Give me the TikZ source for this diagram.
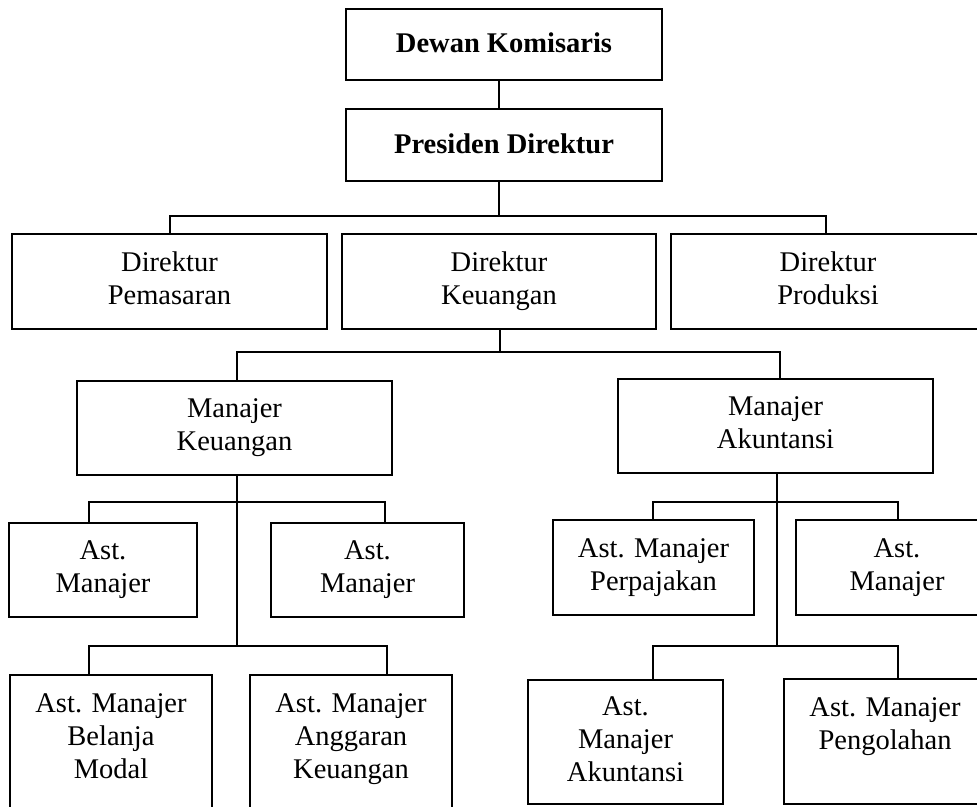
\documentclass[tikz,border=0pt]{standalone}
\usepackage{fontspec}
\setmainfont{Liberation Serif}
% struts that keep every box's text block at the same optical height
\newcommand\firststrut{\rule{0pt}{26.5pt}}
\newcommand\laststrut{\rule[-6.5pt]{0pt}{6.5pt}}
\begin{document}
\begin{tikzpicture}[x=1pt,y=-1pt,
  box/.style={draw, rectangle, line width=2.2pt, inner sep=0pt, align=center,
    font=\fontsize{28.5}{33}\selectfont,
    execute at begin node=\firststrut, execute at end node=\laststrut},
  titlebox/.style={box, font=\fontsize{28.5}{33}\selectfont\bfseries,
    execute at begin node=\strut, execute at end node=\strut},
  boxtext/.style={inner sep=0pt, align=center, font=\fontsize{28.5}{33}\selectfont},
  link/.style={line width=2.2pt}]
\useasboundingbox (0,0) rectangle (977,806);
\clip (0,0) rectangle (977,806);

% top of the chart
\node[titlebox, minimum width=316, minimum height=71] (dk) at (504,44.5) {Dewan Komisaris};
\node[titlebox, minimum width=316, minimum height=72] (pd) at (504,145) {Presiden Direktur};

% directors
\node[box, minimum width=315, minimum height=95] (dpm) at (169.5,281.5) {Direktur\\Pemasaran};
\node[box, minimum width=314, minimum height=95] (dku) at (499,281.5) {Direktur\\Keuangan};
\node[box, minimum width=314, minimum height=95] (dpr) at (828,281.5) {Direktur\\Produksi};

% managers
\node[box, minimum width=315, minimum height=94] (mk) at (234.5,428) {Manajer\\Keuangan};
\node[box, minimum width=315, minimum height=94] (ma) at (775.5,426) {Manajer\\Akuntansi};

% assistant managers, first row
\node[box, minimum width=188, minimum height=94] (a1) at (103,570) {Ast.\\Manajer};
\node[box, minimum width=193, minimum height=94] (a2) at (367.5,570) {Ast.\\Manajer};
\node[box, minimum width=201, minimum height=95] (a3) at (653.5,567.5) {Ast. Manajer\\Perpajakan};
\node[box, minimum width=202, minimum height=95] (a4) at (897,567.5) {Ast.\\Manajer};

% assistant managers, second row
\node[box, minimum width=202, minimum height=155] (b1) at (111,752.5) {};
\node[boxtext, anchor=north] (b1t) at (b1.north) [yshift=-20pt] {Ast. Manajer\\Belanja\\Modal};
\node[box, minimum width=202, minimum height=155] (b2) at (351,752.5) {};
\node[boxtext, anchor=north] (b2t) at (b2.north) [yshift=-20pt] {Ast. Manajer\\Anggaran\\Keuangan};
\node[box, minimum width=195, minimum height=124] (b3) at (625.5,742) {Ast.\\Manajer\\Akuntansi};
\node[box, minimum width=202, minimum height=125] (b4) at (885,741.5) {};
\node[boxtext, anchor=north] (b4t) at (b4.north) [yshift=-20pt] {Ast. Manajer\\Pengolahan};

% connector positions
\coordinate (xtop) at (499,0);
\coordinate (j1) at (499,216);
\coordinate (j2) at (500,352);
\coordinate (j3) at (237,502);
\coordinate (j4) at (237,646);
\coordinate (j5) at (777,502);
\coordinate (j6) at (777,646);

% connectors
\draw[link] (dk.south -| xtop) -- (pd.north -| xtop);
\draw[link] (pd.south -| xtop) -- (j1);
\draw[link] (dpm.north -| 170,0) |- (j1) -| (dpr.north -| 826,0);

\draw[link] (dku.south -| j2) -- (j2);
\draw[link] (mk.north -| 237,0) |- (j2) -| (ma.north -| 780,0);

\draw[link] (mk.south -| j3) -- (j4);
\draw[link] (a1.north -| 89,0) |- (j3) -| (a2.north -| 385,0);
\draw[link] (b1.north -| 89,0) |- (j4) -| (b2.north -| 387,0);

\draw[link] (ma.south -| j5) -- (j6);
\draw[link] (a3.north -| 653,0) |- (j5) -| (a4.north -| 898,0);
\draw[link] (b3.north -| 653,0) |- (j6) -| (b4.north -| 898,0);
\end{tikzpicture}
\end{document}
